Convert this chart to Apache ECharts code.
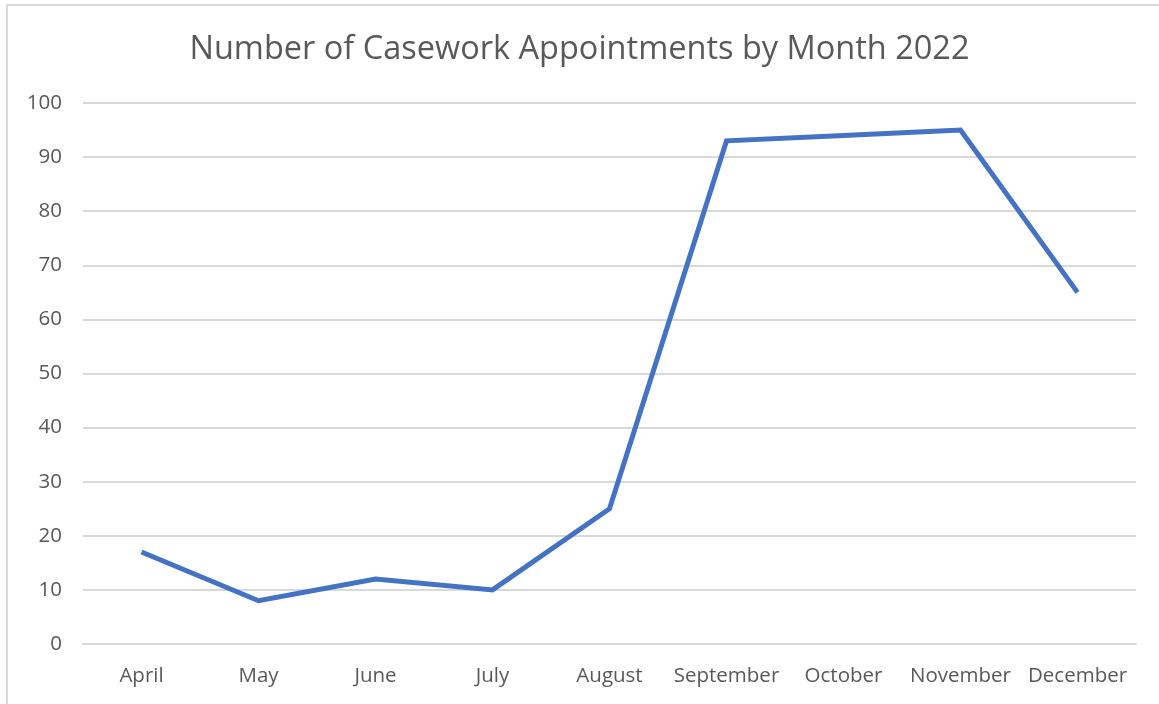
<!DOCTYPE html>
<html>
<head>
<meta charset="utf-8">
<script src="https://cdn.jsdelivr.net/npm/echarts@6/dist/echarts.min.js"></script>
<style>
  html, body { margin: 0; padding: 0; background: #fff; }
  #frame {
    position: absolute; left: 6px; top: 4px; width: 1160px; height: 710px;
    border: 2px solid #d9d9d9; box-sizing: border-box;
  }
  #chart { position: absolute; left: 0; top: 0; width: 1159px; height: 704px; }
</style>
</head>
<body>
<div id="frame"></div>
<div id="chart"></div>
<script>
// data
const months = ["April", "May", "June", "July", "August", "September", "October", "November", "December"];
const appointments = [17, 8, 12, 10, 25, 93, 94, 95, 65];
const titleText = "Number of Casework Appointments by Month 2022";

const textColor = "#595959";
const gridColor = "#d9d9d9";
const fontFamily = "'Open Sans', 'Noto Sans', sans-serif";

const chart = echarts.init(document.getElementById("chart"));
chart.setOption({
  animation: false,
  title: {
    text: titleText,
    left: "center",
    top: 28,
    textStyle: {
      color: textColor,
      fontSize: 32.5,
      fontWeight: "normal",
      fontFamily: fontFamily
    }
  },
  grid: {
    left: 83,
    right: 23,
    top: 103,
    bottom: 60
  },
  xAxis: {
    type: "category",
    data: months,
    boundaryGap: true,
    axisTick: { show: false },
    axisLine: {
      lineStyle: { color: gridColor, width: 2 }
    },
    axisLabel: {
      interval: 0,
      hideOverlap: false,
      color: textColor,
      fontSize: 20.5,
      fontFamily: fontFamily,
      margin: 22
    }
  },
  yAxis: {
    type: "value",
    min: 0,
    max: 100,
    interval: 10,
    axisLine: { show: false },
    axisTick: { show: false },
    splitLine: {
      lineStyle: { color: gridColor, width: 2 }
    },
    axisLabel: {
      color: textColor,
      fontSize: 20.5,
      fontFamily: fontFamily,
      margin: 21
    }
  },
  series: [
    {
      type: "line",
      data: appointments,
      showSymbol: false,
      symbol: "none",
      lineStyle: { color: "#4472c4", width: 5, join: "miter" },
      itemStyle: { color: "#4472c4" }
    }
  ]
});
</script>
</body>
</html>
